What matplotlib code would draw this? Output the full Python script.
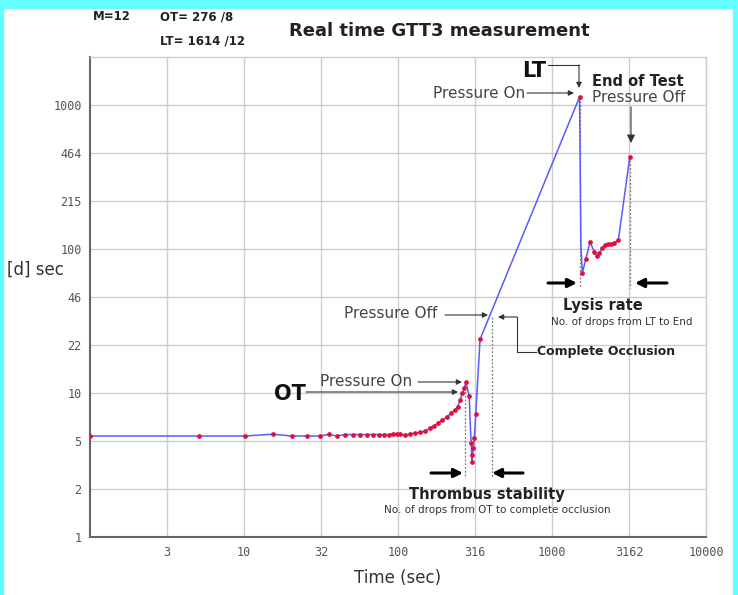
import matplotlib
matplotlib.use("Agg")
import matplotlib.pyplot as plt
from matplotlib.patches import Rectangle

# --- data (time in sec, drop interval [d] in sec) ---
time_s = [1, 5.1, 10.1, 15.4, 20.5, 25.7, 31.2, 35.6, 40.2, 45.3, 50.8, 56.6,
          62.6, 68.5, 75.3, 81.2, 87.0, 92.8, 98.0, 103, 111, 120, 129, 139,
          150, 161, 172, 183, 194, 207, 221, 234, 244, 253, 262, 269, 276,
          290, 296, 299, 301, 303, 308, 313, 320, 341,
          1510, 1540, 1574, 1656, 1766, 1884, 1951, 2029, 2122, 2208, 2300,
          2416, 2540, 2697, 3200]
drop_s = [5.05, 5.05, 5.05, 5.2, 5.05, 5.05, 5.05, 5.19, 5.05, 5.17, 5.17, 5.17,
          5.17, 5.17, 5.17, 5.17, 5.17, 5.25, 5.2, 5.19, 5.13, 5.24, 5.29, 5.35,
          5.47, 5.71, 5.95, 6.24, 6.51, 6.87, 7.25, 7.64, 8.06, 8.97, 9.98, 10.8, 11.9,
          9.6, 5.4, 4.49, 3.72, 3.35, 4.15, 4.86, 7.14, 23.7,
          1142, 110, 68.6, 85, 112.5, 95.9, 89.5, 94.4, 101.3, 106.7, 108,
          108, 110.8, 115.6, 440]
kink_times = [296, 1540]  # line corners drawn without a dot

x_ticks = [10 ** (k / 2) for k in range(1, 9)]
x_labels = ["3", "10", "32", "100", "316", "1000", "3162", "10000"]
y_ticks = [10 ** (k / 3) for k in range(0, 10)]
y_labels = ["1", "2", "5", "10", "22", "46", "100", "215", "464", "1000"]

OT_time, CO_time, LT_time, END_time = 272, 406, 1510, 3200

W, H = 738, 595


def f(x, y):
    # original picture pixels -> figure fraction
    return (x / W, 1 - y / H)


fig = plt.figure(figsize=(W / 100, H / 100), dpi=100)
fig.patch.set_facecolor("white")

# cyan frame
cyan = "#66ffff"
for r in [(0, 1 - 8 / H, 1, 8 / H), (0, 0, 3 / W, 1), (1 - 5 / W, 0, 5 / W, 1)]:
    fig.add_artist(Rectangle(r[:2], r[2], r[3], transform=fig.transFigure,
                             color=cyan, zorder=0))

ax = fig.add_axes([90 / W, (H - 537.3) / H, 616 / W, 480 / H])
ax.set_xscale("log")
ax.set_yscale("log")
ax.set_xlim(1, 10000)
ax.set_ylim(1, 10 ** (10 / 3))

ax.set_xticks(x_ticks)
ax.set_xticklabels(x_labels)
ax.set_yticks(y_ticks)
ax.set_yticklabels(y_labels)
ax.minorticks_off()
ax.tick_params(length=0, pad=6, labelcolor="#555555")
for lab in ax.get_xticklabels() + ax.get_yticklabels():
    lab.set_fontfamily("DejaVu Sans Mono")
    lab.set_fontsize(8.5)

ax.grid(True, color="#cccccc", lw=1)
ax.set_axisbelow(True)
for side in ["left", "bottom"]:
    ax.spines[side].set_color("#666666")
    ax.spines[side].set_linewidth(1.5)
for side in ["top", "right"]:
    ax.spines[side].set_color("#cccccc")
    ax.spines[side].set_linewidth(1)

marks = [i for i, t in enumerate(time_s) if t not in kink_times]
ax.plot(time_s, drop_s, color="#5a5aff", lw=1.1, marker="o", markersize=2.4,
        markerfacecolor="#e0103a", markeredgecolor="#e0103a",
        markevery=marks, zorder=3)

# dotted event lines
dot = dict(color="#777777", lw=0.9, ls=(0, (1.5, 1.5)), zorder=2)
ax.plot([OT_time, OT_time], [11.6, 2.58], **dot)
ax.plot([CO_time, CO_time], [34, 2.58], **dot)
ax.plot([LT_time, LT_time], [1142, 53.7], **dot)
ax.plot([END_time, END_time], [420, 53.7], **dot)

# header texts
fig.text(*f(93, 17), "M=12", fontsize=8.5, fontweight="bold", va="center", color="#222222")
fig.text(*f(160, 17), "OT= 276 /8", fontsize=8.5, fontweight="bold", va="center", color="#222222")
fig.text(*f(160, 41), "LT= 1614 /12", fontsize=8.5, fontweight="bold", va="center", color="#222222")
fig.text(*f(439, 31), "Real time GTT3 measurement", fontsize=13, fontweight="bold",
         ha="center", va="center", color="#222222")

fig.text(*f(7, 270), "[d] sec", fontsize=12, va="center", color="#333333")
fig.text(*f(398, 578), "Time (sec)", fontsize=12, ha="center", va="center", color="#333333")

thin = dict(arrowstyle="-|>", color="#333333", lw=0.8, mutation_scale=8,
            shrinkA=0, shrinkB=0)
thick = dict(arrowstyle="-|>", color="black", lw=2.2, mutation_scale=13,
             shrinkA=0, shrinkB=0)


def arrow(x0, y0, x1, y1, style):
    fig.add_artist(matplotlib.patches.FancyArrowPatch(
        f(x0, y0), f(x1, y1), transform=fig.transFigure, **style))


def line(xs, ys):
    fig.add_artist(matplotlib.lines.Line2D([x / W for x in xs], [1 - y / H for y in ys],
                                           transform=fig.transFigure, color="#333333", lw=0.8))


# OT annotations
fig.text(*f(274, 394), "OT", fontsize=15, fontweight="bold", va="center", color="#111111")
arrow(306, 392, 458, 392, thin)
fig.text(*f(320, 382), "Pressure On", fontsize=11, va="center", color="#444444")
arrow(418, 382, 462, 382, thin)

# Thrombus stability
arrow(431, 473, 463, 473, thick)
arrow(523, 473, 492, 473, thick)
fig.text(*f(487, 495), "Thrombus stability", fontsize=10.5, fontweight="bold",
         ha="center", va="center", color="#222222")
fig.text(*f(497, 510), "No. of drops from OT to complete occlusion", fontsize=7.5,
         ha="center", va="center", color="#333333")

# Complete occlusion
fig.text(*f(344, 313), "Pressure Off", fontsize=11, va="center", color="#444444")
arrow(445, 315, 488, 315, thin)
line([536, 517, 517], [352, 352, 317])
arrow(517, 317, 498, 317, thin)
fig.text(*f(537, 352), "Complete Occlusion", fontsize=9, fontweight="bold",
         va="center", color="#222222")

# LT annotations
fig.text(*f(522, 71), "LT", fontsize=15, fontweight="bold", va="center", color="#111111")
line([548, 579], [65, 65])
arrow(579, 65, 579, 88, thin)
fig.text(*f(433, 93), "Pressure On", fontsize=11, va="center", color="#444444")
arrow(527, 93, 574, 93, thin)
fig.text(*f(592, 81), "End of Test", fontsize=10.5, fontweight="bold", va="center", color="#222222")
fig.text(*f(592, 98), "Pressure Off", fontsize=11, va="center", color="#444444")
arrow(631, 107, 631, 143, dict(thin, mutation_scale=12))

# Lysis rate
arrow(548, 283, 577, 283, thick)
arrow(667, 283, 635, 283, thick)
fig.text(*f(603, 306), "Lysis rate", fontsize=10.5, fontweight="bold",
         ha="center", va="center", color="#222222")
fig.text(*f(622, 322), "No. of drops from LT to End", fontsize=7.5,
         ha="center", va="center", color="#333333")

fig.savefig("out.png", dpi=100)
